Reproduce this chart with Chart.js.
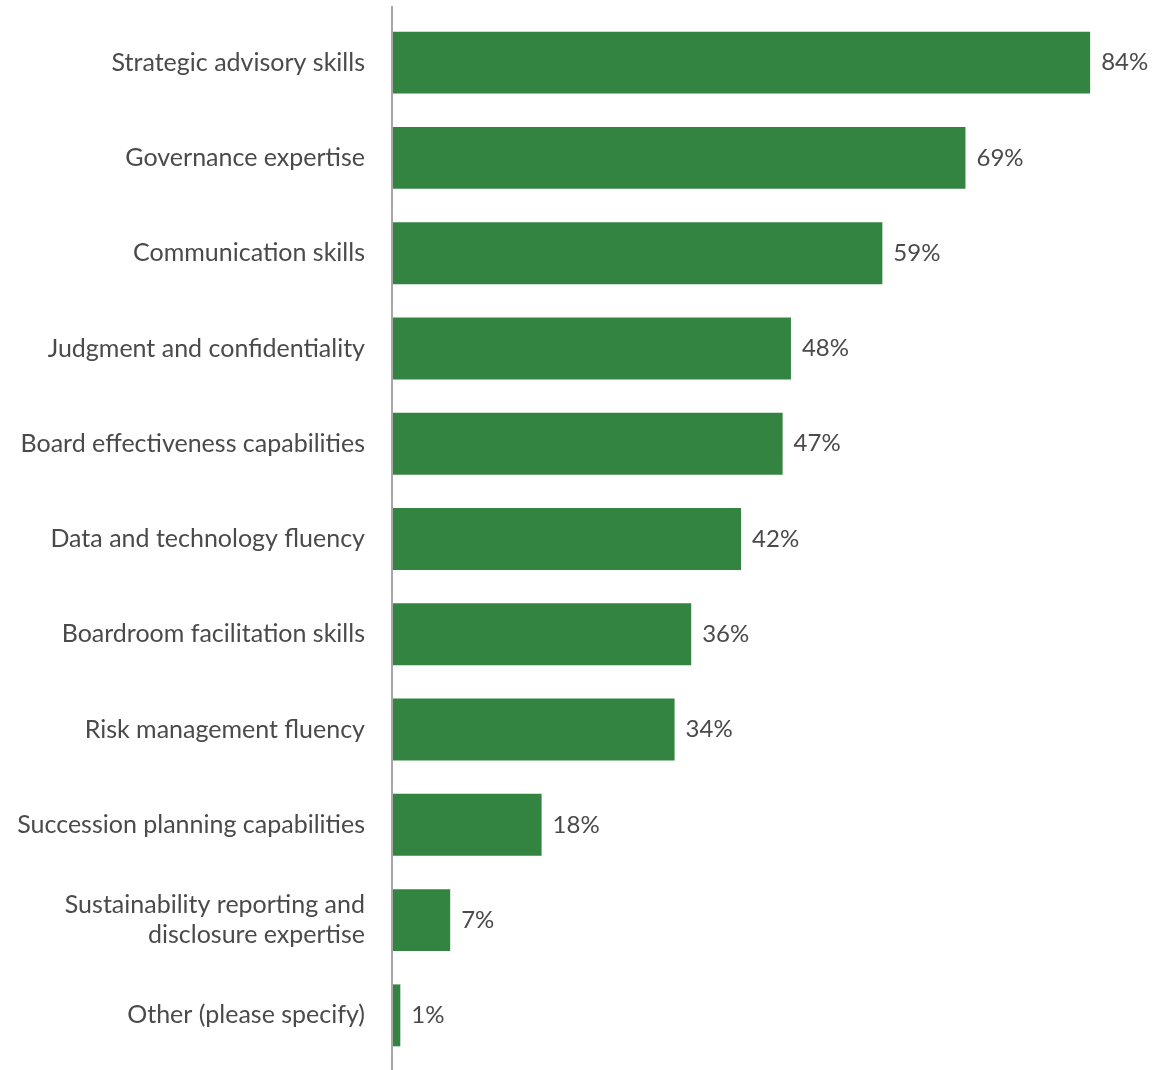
<!DOCTYPE html>
<html lang="en">
<head>
    <meta charset="UTF-8">
    <title>Board advisor skills</title>
    <script src="https://cdn.jsdelivr.net/npm/chart.js@4.4.0/dist/chart.umd.min.js"></script>
    <style>
        html, body {
            margin: 0;
            padding: 0;
            background: #fff;
        }
        #chartBox {
            width: 1153px;
            height: 1070px;
        }
    </style>
</head>
<body>
    <div id="chartBox">
        <canvas id="skillsChart" width="1153" height="1070"></canvas>
    </div>

    <script>
        const categories = [
            'Strategic advisory skills',
            'Governance expertise',
            'Communication skills',
            'Judgment and confidentiality',
            'Board effectiveness capabilities',
            'Data and technology fluency',
            'Boardroom facilitation skills',
            'Risk management fluency',
            'Succession planning capabilities',
            ['Sustainability reporting and', 'disclosure expertise'],
            'Other (please specify)'
        ];
        const percentages = [84, 69, 59, 48, 47, 42, 36, 34, 18, 7, 1];

        const barColor = '#338440';
        const textColor = '#4a4a4a';
        const fontFamily = 'Lato, "Open Sans", sans-serif';

        // value labels at the end of each bar + the tall grey axis line
        const extras = {
            id: 'extras',
            afterDatasetsDraw(chart) {
                const ctx = chart.ctx;
                const meta = chart.getDatasetMeta(0);
                ctx.save();
                ctx.font = '24px ' + fontFamily;
                ctx.fillStyle = textColor;
                ctx.textAlign = 'left';
                ctx.textBaseline = 'middle';
                meta.data.forEach((bar, i) => {
                    ctx.fillText(percentages[i] + '%', bar.x + 11, bar.y);
                });

                const x = chart.scales.x.left;
                ctx.strokeStyle = '#a6a6a6';
                ctx.lineWidth = 2;
                ctx.beginPath();
                ctx.moveTo(x, 6);
                ctx.lineTo(x, 1070);
                ctx.stroke();
                ctx.restore();
            }
        };

        new Chart(document.getElementById('skillsChart'), {
            type: 'bar',
            data: {
                labels: categories,
                datasets: [{
                    data: percentages,
                    backgroundColor: barColor,
                    barPercentage: 0.65,
                    categoryPercentage: 1.0
                }]
            },
            options: {
                indexAxis: 'y',
                responsive: false,
                animation: false,
                layout: {
                    padding: { top: 15, bottom: 7, right: 13, left: 0 }
                },
                scales: {
                    x: {
                        display: false,
                        min: 0,
                        max: 90
                    },
                    y: {
                        afterFit(scale) {
                            scale.width = 392;
                            scale.paddingTop = 0;
                            scale.paddingBottom = 0;
                        },
                        grid: { display: false, drawTicks: false },
                        border: { display: false },
                        ticks: {
                            color: textColor,
                            padding: 27,
                            font: { family: fontFamily, size: 25, lineHeight: 1.2 }
                        }
                    }
                },
                plugins: {
                    legend: { display: false },
                    tooltip: { enabled: false }
                }
            },
            plugins: [extras]
        });
    </script>
</body>
</html>
